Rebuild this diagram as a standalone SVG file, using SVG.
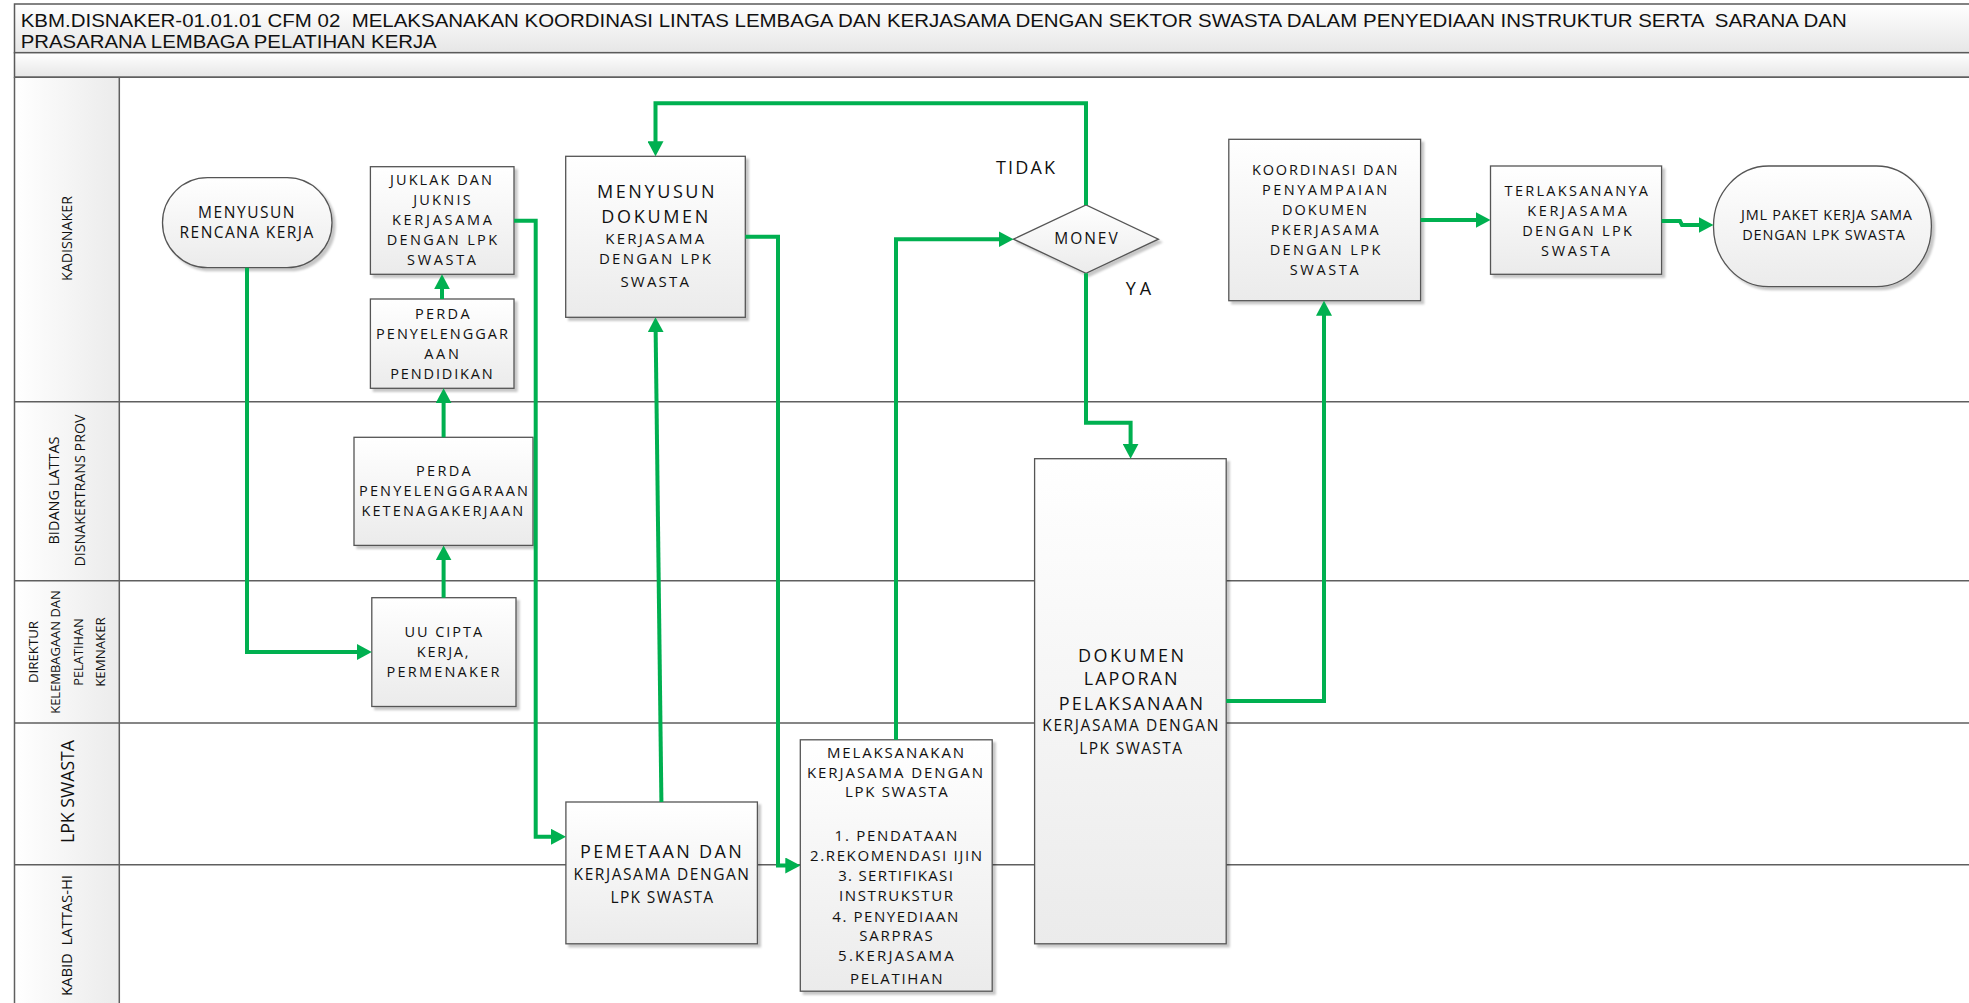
<svg xmlns="http://www.w3.org/2000/svg" width="1969" height="1003" viewBox="0 0 1969 1003">
  <defs>
    <linearGradient id="boxGrad" x1="0" y1="0" x2="0" y2="1">
      <stop offset="0" stop-color="#ffffff"/>
      <stop offset="1" stop-color="#ebebeb"/>
    </linearGradient>
    <linearGradient id="bandGrad" x1="0" y1="0" x2="0" y2="1">
      <stop offset="0" stop-color="#ffffff"/>
      <stop offset="1" stop-color="#e6e6e6"/>
    </linearGradient>
    <linearGradient id="headGrad" x1="0" y1="0" x2="1" y2="0">
      <stop offset="0" stop-color="#ffffff"/>
      <stop offset="1" stop-color="#ebebeb"/>
    </linearGradient>
    <filter id="sh" x="-10%" y="-10%" width="125%" height="125%">
      <feDropShadow dx="3" dy="3" stdDeviation="1.2" flood-color="#000" flood-opacity="0.22"/>
    </filter>
    <marker id="ah" viewBox="0 0 15 16" markerUnits="userSpaceOnUse" markerWidth="15" markerHeight="16" refX="5" refY="8" orient="auto">
      <path d="M0,0 L15,8 L0,16 z" fill="#00b050"/>
    </marker>
    <style>
      .box { fill: url(#boxGrad); stroke: #555555; stroke-width: 1.3; filter: url(#sh); }
      .band { fill: url(#bandGrad); stroke: #5a5a5a; stroke-width: 1.5; }
      .head { fill: url(#headGrad); stroke: none; }
      .lane { stroke: #5f5f5f; stroke-width: 1.5; fill: none; }
      .t { font-family: "Open Sans", "Liberation Sans", sans-serif; fill: #111; text-anchor: middle; }
      .title { font-family: "Liberation Sans", "Open Sans", sans-serif; fill: #111; font-size: 18px; }
      .s14 { font-size: 14.5px; }
      .s15 { font-size: 15px; }
      .s16 { font-size: 15.5px; }
      .s18 { font-size: 18px; }
      .s13 { font-size: 13px; }
      .s19 { font-size: 19px; }
      .c { fill: none; stroke: #00b050; stroke-width: 4; marker-end: url(#ah); }
    </style>
  </defs>

  <!-- title bands and swimlane pool -->
  <g id="pool">
    <rect class="band" x="14.5" y="4" width="1990" height="48.7"/>
    <rect class="band" x="14.5" y="52.7" width="1990" height="24.6"/>
    <rect x="14.5" y="77.3" width="1990" height="940" fill="#ffffff"/>
    <rect class="head" x="14.5" y="77.3" width="104.8" height="324.4"/>
    <rect class="head" x="14.5" y="401.7" width="104.8" height="179.1"/>
    <rect class="head" x="14.5" y="580.8" width="104.8" height="142.2"/>
    <rect class="head" x="14.5" y="723" width="104.8" height="141.7"/>
    <rect class="head" x="14.5" y="864.7" width="104.8" height="150"/>
    <path class="lane" d="M14.5,77.3 H2000 M14.5,401.7 H2000 M14.5,580.8 H2000 M14.5,723 H2000 M14.5,864.7 H2000 M14.5,77.3 V1010 M119.3,77.3 V1010"/>
    <text class="title" x="20.7" y="27" textLength="1826" lengthAdjust="spacingAndGlyphs" xml:space="preserve">KBM.DISNAKER-01.01.01 CFM 02  MELAKSANAKAN KOORDINASI LINTAS LEMBAGA DAN KERJASAMA DENGAN SEKTOR SWASTA DALAM PENYEDIAAN INSTRUKTUR SERTA  SARANA DAN</text>
    <text class="title" x="20.7" y="47.5" textLength="416" lengthAdjust="spacingAndGlyphs">PRASARANA LEMBAGA PELATIHAN KERJA</text>
    <!-- lane labels, rotated to read bottom-up -->
    <g class="t s15">
      <text transform="translate(72,238.5) rotate(-90)" textLength="85" lengthAdjust="spacingAndGlyphs">KADISNAKER</text>
      <text transform="translate(59,490.5) rotate(-90)" textLength="108" lengthAdjust="spacingAndGlyphs">BIDANG LATTAS</text>
      <text transform="translate(84.5,490.5) rotate(-90)" textLength="152" lengthAdjust="spacingAndGlyphs">DISNAKERTRANS PROV</text>
      <text transform="translate(71.5,935.5) rotate(-90)" textLength="121" lengthAdjust="spacingAndGlyphs" xml:space="preserve">KABID  LATTAS-HI</text>
    </g>
    <g class="t s13">
      <text transform="translate(37.7,652) rotate(-90)" textLength="62" lengthAdjust="spacingAndGlyphs">DIREKTUR</text>
      <text transform="translate(59.7,652) rotate(-90)" textLength="123.5" lengthAdjust="spacingAndGlyphs">KELEMBAGAAN DAN</text>
      <text transform="translate(82.7,652) rotate(-90)" textLength="67.5" lengthAdjust="spacingAndGlyphs">PELATIHAN</text>
      <text transform="translate(104.7,652) rotate(-90)" textLength="69.5" lengthAdjust="spacingAndGlyphs">KEMNAKER</text>
    </g>
    <text class="t s19" transform="translate(73.5,791.5) rotate(-90)" textLength="103" lengthAdjust="spacingAndGlyphs">LPK SWASTA</text>
  </g>

  <!-- process steps -->
  <g id="menyusun-rencana">
    <rect class="box" x="162.5" y="177.7" width="169.5" height="90" rx="45" ry="45"/>
    <g class="t s16">
      <text x="246.3" y="218.3" textLength="96.4">MENYUSUN</text>
      <text x="246.4" y="238.3" textLength="133.6">RENCANA KERJA</text>
    </g>
  </g>

  <g id="juklak-juknis">
    <rect class="box" x="370.4" y="166.7" width="143.6" height="107.6"/>
    <g class="t s14" xml:space="preserve">
      <text x="441" y="185" textLength="101.8">JUKLAK DAN</text>
      <text x="441.9" y="205" textLength="57.5">JUKNIS</text>
      <text x="442" y="225" textLength="100">KERJASAMA</text>
      <text x="441.9" y="245" textLength="110.4">DENGAN  LPK</text>
      <text x="441.5" y="265" textLength="69">SWASTA</text>
    </g>
  </g>

  <g id="perda-pendidikan">
    <rect class="box" x="370.4" y="299" width="143.6" height="89.3"/>
    <g class="t s14">
      <text x="442.3" y="319.3" textLength="54.6">PERDA</text>
      <text x="442" y="339.3" textLength="131.8">PENYELENGGAR</text>
      <text x="441.5" y="359.3" textLength="34.6">AAN</text>
      <text x="441.5" y="379.3" textLength="102.5">PENDIDIKAN</text>
    </g>
  </g>

  <g id="perda-ketenagakerjaan">
    <rect class="box" x="354" y="437.3" width="179" height="108.1"/>
    <g class="t s14">
      <text x="443.4" y="476" textLength="54.6">PERDA</text>
      <text x="443.5" y="496" textLength="169">PENYELENGGARAAN</text>
      <text x="442.3" y="516" textLength="161.8">KETENAGAKERJAAN</text>
    </g>
  </g>

  <g id="uu-cipta-kerja">
    <rect class="box" x="371.8" y="597.7" width="144.2" height="108.8"/>
    <g class="t s14">
      <text x="443.3" y="637.3" textLength="77.5">UU CIPTA</text>
      <text x="442.7" y="657" textLength="51.8">KERJA,</text>
      <text x="442.9" y="677" textLength="112.9">PERMENAKER</text>
    </g>
  </g>

  <g id="menyusun-dokumen">
    <rect class="box" x="565.7" y="156.3" width="179.6" height="161"/>
    <g class="t s18">
      <text x="655.8" y="198" textLength="117.7">MENYUSUN</text>
      <text x="654.8" y="223.3" textLength="107">DOKUMEN</text>
    </g>
    <g class="t s15" xml:space="preserve">
      <text x="654.8" y="244.3" textLength="99">KERJASAMA</text>
      <text x="655" y="264.3" textLength="112">DENGAN  LPK</text>
      <text x="654.7" y="286.7" textLength="68.6">SWASTA</text>
    </g>
  </g>

  <g id="pemetaan">
    <rect class="box" x="565.9" y="802" width="191.5" height="141.8"/>
    <text class="t s18" x="660.9" y="858.3" textLength="161.6" font-size="18.5">PEMETAAN DAN</text>
    <g class="t s16">
      <text x="661.3" y="879.9" textLength="175.4">KERJASAMA DENGAN</text>
      <text x="661.8" y="902.5" textLength="102.7">LPK SWASTA</text>
    </g>
  </g>

  <g id="melaksanakan">
    <rect class="box" x="800.3" y="739.8" width="191.9" height="251.4"/>
    <g class="t s15">
      <text x="895.5" y="757.8" textLength="137">MELAKSANAKAN</text>
      <text x="895" y="777.5" textLength="176">KERJASAMA DENGAN</text>
      <text x="896.3" y="797.3" textLength="102.7">LPK SWASTA</text>
      <text x="896" y="841" textLength="122.8">1. PENDATAAN</text>
      <text x="896" y="861.2" textLength="172">2.REKOMENDASI IJIN</text>
      <text x="895.5" y="881.3" textLength="114.7">3. SERTIFIKASI</text>
      <text x="896" y="901.4" textLength="113.8">INSTRUKSTUR</text>
      <text x="895.3" y="921.5" textLength="126">4. PENYEDIAAN</text>
      <text x="896" y="941.3" textLength="73.7">SARPRAS</text>
      <text x="895.9" y="961.4" textLength="115.6">5.KERJASAMA</text>
      <text x="896.3" y="984" textLength="92.4">PELATIHAN</text>
    </g>
  </g>

  <g id="monev">
    <polygon class="box" points="1013.5,239.2 1086,205 1158.4,239.2 1086,273.3"/>
    <text class="t s16" x="1086" y="244.3" textLength="63.3">MONEV</text>
  </g>

  <g id="dokumen-laporan">
    <rect class="box" x="1034.6" y="458.7" width="191.6" height="485.1"/>
    <g class="t s18" font-size="18.5">
      <text x="1131" y="661.5" textLength="106">DOKUMEN</text>
      <text x="1130.6" y="685.2" textLength="93.7">LAPORAN</text>
      <text x="1130.9" y="710" textLength="144.2">PELAKSANAAN</text>
    </g>
    <g class="t s16">
      <text x="1130.3" y="730.8" textLength="176">KERJASAMA DENGAN</text>
      <text x="1130.6" y="754.2" textLength="102.7">LPK SWASTA</text>
    </g>
  </g>

  <g id="koordinasi">
    <rect class="box" x="1228.8" y="139.3" width="191.8" height="161.4"/>
    <g class="t s14" xml:space="preserve">
      <text x="1324.7" y="175" textLength="145.4">KOORDINASI DAN</text>
      <text x="1324.6" y="195" textLength="125.3">PENYAMPAIAN</text>
      <text x="1324.5" y="215" textLength="85">DOKUMEN</text>
      <text x="1324.7" y="235" textLength="108">PKERJASAMA</text>
      <text x="1325" y="255" textLength="110.7">DENGAN  LPK</text>
      <text x="1324.2" y="275" textLength="69">SWASTA</text>
    </g>
  </g>

  <g id="terlaksananya">
    <rect class="box" x="1490.5" y="166" width="171.1" height="108.3"/>
    <g class="t s14" xml:space="preserve">
      <text x="1576.3" y="196" textLength="143.4">TERLAKSANANYA</text>
      <text x="1577" y="216" textLength="99.6">KERJASAMA</text>
      <text x="1577" y="236" textLength="109.7">DENGAN  LPK</text>
      <text x="1575.5" y="256" textLength="69">SWASTA</text>
    </g>
  </g>

  <g id="jml-paket">
    <rect class="box" x="1713.5" y="166" width="217.9" height="120.7" rx="55" ry="60"/>
    <g class="t s14">
      <text x="1826.5" y="220" textLength="171">JML PAKET KERJA SAMA</text>
      <text x="1823.5" y="240" textLength="162.6">DENGAN LPK SWASTA</text>
    </g>
  </g>

  <!-- flow connectors -->
  <g id="connectors">
    <path class="c" d="M247,267.7 V652 H361.8"/>
    <path class="c" d="M443.6,597.7 V555.4"/>
    <path class="c" d="M443.6,437.3 V398.3"/>
    <path class="c" d="M442,299 V284.3"/>
    <path class="c" d="M514,220.7 H535.7 V836.8 H556"/>
    <path class="c" d="M661.4,802 L655.6,327.3"/>
    <path class="c" d="M745.3,236.7 H778 V865.5 H790.3"/>
    <path class="c" d="M896,739.8 V239.3 H1003.5"/>
    <path class="c" d="M1086,205 V103.3 H655.5 V146.3"/>
    <path class="c" d="M1086,273.3 V422.7 H1130.6 V448.7"/>
    <path class="c" d="M1226.2,701 H1324 V310.7"/>
    <path class="c" d="M1420.6,220 H1480.5"/>
    <path class="c" d="M1661.6,221 H1680 L1682,225 H1703.5"/>
    <text class="t s18" x="1025.5" y="174.3" textLength="59">TIDAK</text>
    <text class="t s18" x="1138.4" y="295" textLength="25.3">YA</text>
  </g>
</svg>
